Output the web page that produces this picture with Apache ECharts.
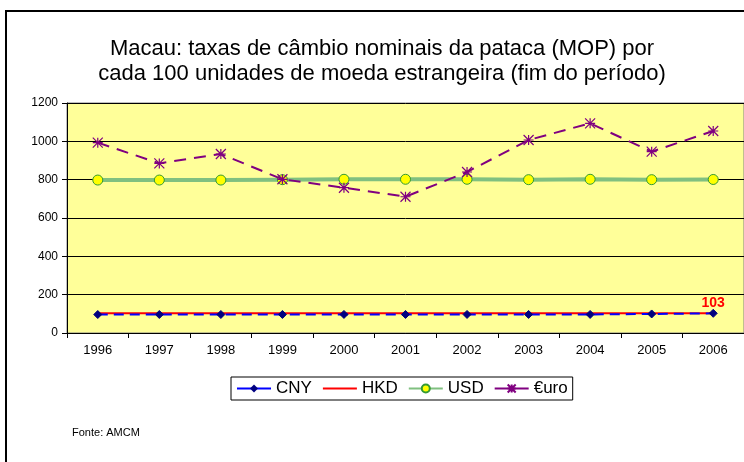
<!DOCTYPE html>
<html>
<head>
<meta charset="utf-8">
<script src="https://cdn.jsdelivr.net/npm/echarts@6/dist/echarts.min.js"></script>
<style>
html, body { margin: 0; padding: 0; background: #fff; }
#chart { width: 744px; height: 462px; }
</style>
</head>
<body>
<div id="chart"></div>
<script>
var years = ['1996', '1997', '1998', '1999', '2000', '2001', '2002', '2003', '2004', '2005', '2006'];
var cny = [96.4, 96.6, 96.6, 96.7, 96.8, 96.8, 96.8, 96.8, 96.9, 99.3, 102.6];
var hkd = [103, 103, 103, 103, 103, 103, 103, 103, 103, 103, 103];
var usd = [798, 798, 798, 800, 802, 802, 802, 800, 802, 800, 801];
var euro = [993, 885, 934, 802, 758, 711, 840, 1007, 1094, 946, 1054];
var yTicks = [0, 200, 400, 600, 800, 1000, 1200];

var font = 'Arial, "Liberation Sans", sans-serif';
var narrow = '"Liberation Sans Narrow", "Arial Narrow", Arial, sans-serif';

var myChart = echarts.init(document.getElementById('chart'));

var option = {
    animation: false,
    textStyle: { fontFamily: font },
    title: {
        text: 'Macau: taxas de câmbio nominais da pataca (MOP) por\ncada 100 unidades de moeda estrangeira (fim do período)',
        left: 377,
        top: 31,
        textAlign: 'center',
        textStyle: { fontSize: 22, fontWeight: 'normal', color: '#000', lineHeight: 25, fontFamily: font }
    },
    graphic: [
        {
            type: 'rect',
            shape: { x: 6, y: 11, width: 760, height: 470 },
            style: { fill: 'none', stroke: '#000', lineWidth: 2 },
            z: 100
        },
        {
            type: 'text',
            left: 72,
            top: 427,
            style: { text: 'Fonte: AMCM', font: '11px ' + font, fill: '#000' }
        }
    ],
    legend: {
        left: 231,
        top: 377,
        itemGap: 10,
        itemWidth: 34,
        itemHeight: 10,
        padding: [3, 5, 3, 5],
        borderColor: '#000',
        borderWidth: 1,
        borderRadius: 0,
        textStyle: { fontSize: 17, color: '#000', fontFamily: font, padding: [0, 0, 0, 0] },
        data: [
            { name: 'CNY', lineStyle: { type: 'solid' } },
            { name: 'HKD', itemStyle: { opacity: 0 } },
            { name: 'USD' },
            { name: '€uro', lineStyle: { type: 'solid' } }
        ]
    },
    grid: {
        left: 67,
        right: -3,
        top: 103,
        bottom: 129,
        show: true,
        backgroundColor: '#ffff99',
        borderColor: '#808080',
        borderWidth: 1,
        containLabel: false
    },
    xAxis: {
        type: 'category',
        data: years,
        boundaryGap: true,
        axisLine: { lineStyle: { color: '#000', width: 1 } },
        axisTick: { show: true, alignWithLabel: false, length: 5, lineStyle: { color: '#000' } },
        axisLabel: { fontSize: 13, color: '#000', margin: 11, fontFamily: narrow }
    },
    yAxis: {
        type: 'value',
        min: yTicks[0],
        max: yTicks[yTicks.length - 1],
        interval: 200,
        axisLine: { show: true, lineStyle: { color: '#000' } },
        axisTick: { show: true, length: 5, inside: false, lineStyle: { color: '#000' } },
        axisLabel: { fontSize: 12, color: '#000', margin: 9, fontFamily: font, formatter: function (v) { return String(v); } },
        splitLine: { show: true, lineStyle: { color: '#000', width: 1 } }
    },
    series: [
        {
            name: 'USD',
            type: 'line',
            data: usd,
            symbol: 'circle',
            symbolSize: 10,
            itemStyle: { color: '#ffff00', borderColor: '#339933', borderWidth: 1 },
            lineStyle: { color: '#80c080', width: 4 },
            z: 2
        },
        {
            name: '€uro',
            type: 'line',
            data: euro,
            symbol: 'path://M0,0L10,10M10,0L0,10M5,0L5,10M0,5L10,5',
            symbolSize: 10,
            itemStyle: { color: 'none', borderColor: '#800080', borderWidth: 1.2 },
            lineStyle: { color: '#800080', width: 2, type: [12, 8] },
            z: 3
        },
        {
            name: 'HKD',
            type: 'line',
            data: hkd,
            showSymbol: false,
            symbol: 'none',
            itemStyle: { color: '#ff0000' },
            lineStyle: { color: '#ff0000', width: 2 },
            markPoint: {
                symbol: 'circle',
                symbolSize: 0,
                data: [{ coord: [10, 103], value: 103 }],
                label: { show: true, position: 'top', distance: 0, offset: [0, -3], color: '#ff0000', fontWeight: 'bold', fontSize: 14, fontFamily: font, formatter: '{c}' }
            },
            z: 4
        },
        {
            name: 'CNY',
            type: 'line',
            data: cny,
            symbol: 'diamond',
            symbolSize: 8,
            itemStyle: { color: '#000080', borderColor: '#000080' },
            lineStyle: { color: '#0000ff', width: 2, type: [10, 6] },
            z: 5
        }
    ]
};

myChart.setOption(option);
</script>
</body>
</html>
